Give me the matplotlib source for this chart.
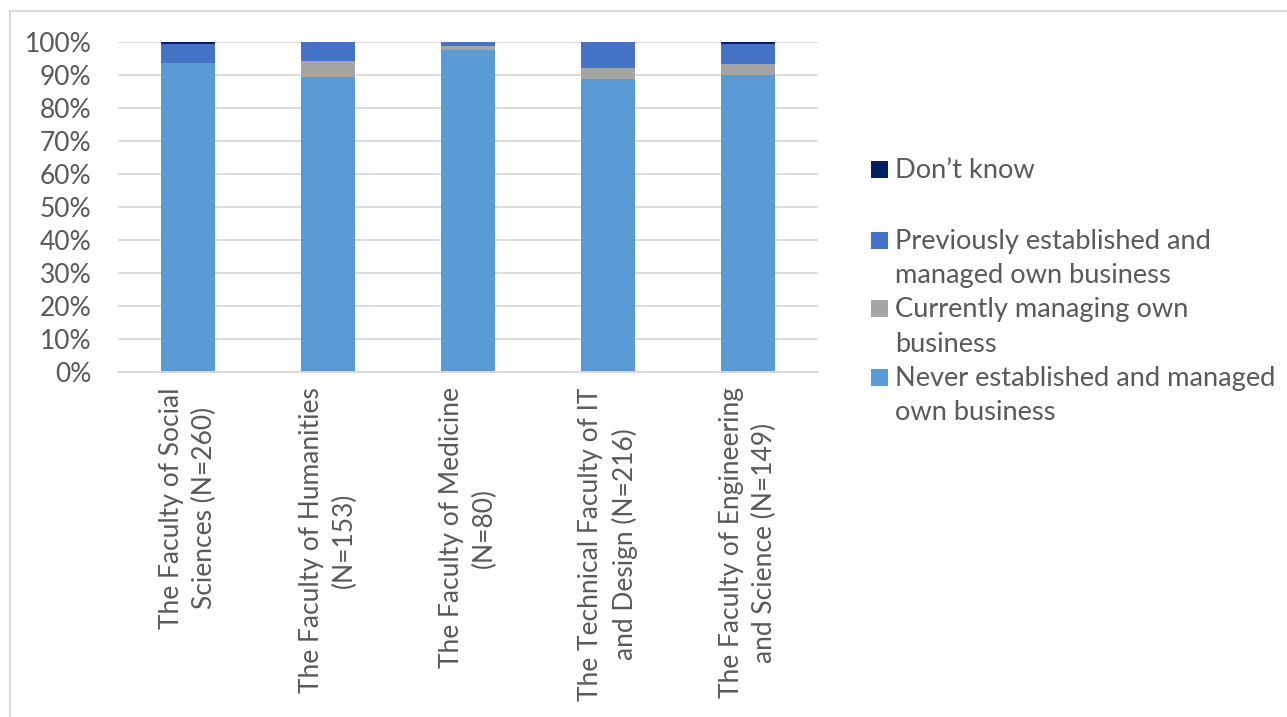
"""Stacked share of students by business experience, per faculty."""

import numpy as np
from matplotlib import pyplot as plt
from matplotlib.patches import Rectangle
from matplotlib.lines import Line2D

faculties = [
    "The Faculty of Social\nSciences (N=260)",
    "The Faculty of Humanities\n(N=153)",
    "The Faculty of Medicine\n(N=80)",
    "The Technical Faculty of IT\nand Design (N=216)",
    "The Faculty of Engineering\nand Science (N=149)",
]

# shares in percent, bottom to top
never = [93.5, 89.5, 97.5, 88.9, 89.9]
currently = [0.0, 4.6, 1.25, 3.2, 3.4]
previously = [5.8, 5.9, 1.25, 7.9, 6.0]
dont_know = [0.7, 0.0, 0.0, 0.0, 0.7]

series_names = [
    "Never established and managed\nown business",
    "Currently managing own\nbusiness",
    "Previously established and\nmanaged own business",
    "Don’t know",
]
series_colors = ["#5B9BD5", "#A5A5A5", "#4472C4", "#002060"]

text_color = "#595959"
plt.rcParams["font.family"] = ["Lato", "DejaVu Sans"]

fig = plt.figure(figsize=(12.87, 7.17), dpi=100)
W, H = 1287, 717
ax = fig.add_axes([118 / W, (H - 372) / H, 700 / W, 330 / H])

x = np.arange(len(faculties))
bottom = np.zeros(len(faculties))
for values, color in zip([never, currently, previously, dont_know], series_colors):
    vals = np.array(values) / 100
    ax.bar(x, vals, width=0.39, bottom=bottom, color=color, zorder=2)
    bottom += vals

ax.set_xlim(-0.5, len(faculties) - 0.5)
ax.set_ylim(0, 1)
ax.set_yticks(np.arange(0, 1.01, 0.1))
ax.set_yticklabels([f"{int(round(v * 100))}%" for v in np.arange(0, 1.01, 0.1)])
ax.set_xticks(x)
ax.set_xticklabels(faculties, rotation=90, ha="center", va="top",
                   multialignment="center", linespacing=1.4)
ax.tick_params(axis="both", length=0, colors=text_color, labelsize=19)
ax.tick_params(axis="x", pad=11)
ax.tick_params(axis="y", pad=19)
ax.grid(axis="y", color="#D9D9D9", linewidth=1.3, zorder=0)
for side in ["top", "right", "left"]:
    ax.spines[side].set_visible(False)
ax.spines["bottom"].set_color("#D9D9D9")
ax.spines["bottom"].set_linewidth(1.3)

# legend, top entry first
legend_rows = [
    (3, 178, [178]),
    (2, 249, [249, 283]),
    (1, 317, [317, 352]),
    (0, 386, [386, 420]),
]
for idx, sq_bottom, baselines in legend_rows:
    fig.patches.append(Rectangle((871 / W, (H - sq_bottom) / H), 17 / W, 17 / H,
                                 transform=fig.transFigure,
                                 facecolor=series_colors[idx], edgecolor="none"))
    for line, base in zip(series_names[idx].split("\n"), baselines):
        fig.text(895 / W, (H - base) / H, line, fontsize=19.6, color=text_color,
                 ha="left", va="baseline")

# chart frame
fig.lines.append(Line2D([9.5 / W, 9.5 / W], [0, (H - 11) / H], transform=fig.transFigure,
                        color="#D9D9D9", linewidth=1.3))
fig.lines.append(Line2D([9.5 / W, 1], [(H - 11) / H, (H - 11) / H], transform=fig.transFigure,
                        color="#D9D9D9", linewidth=1.3))

fig.savefig("out.png", dpi=100)
